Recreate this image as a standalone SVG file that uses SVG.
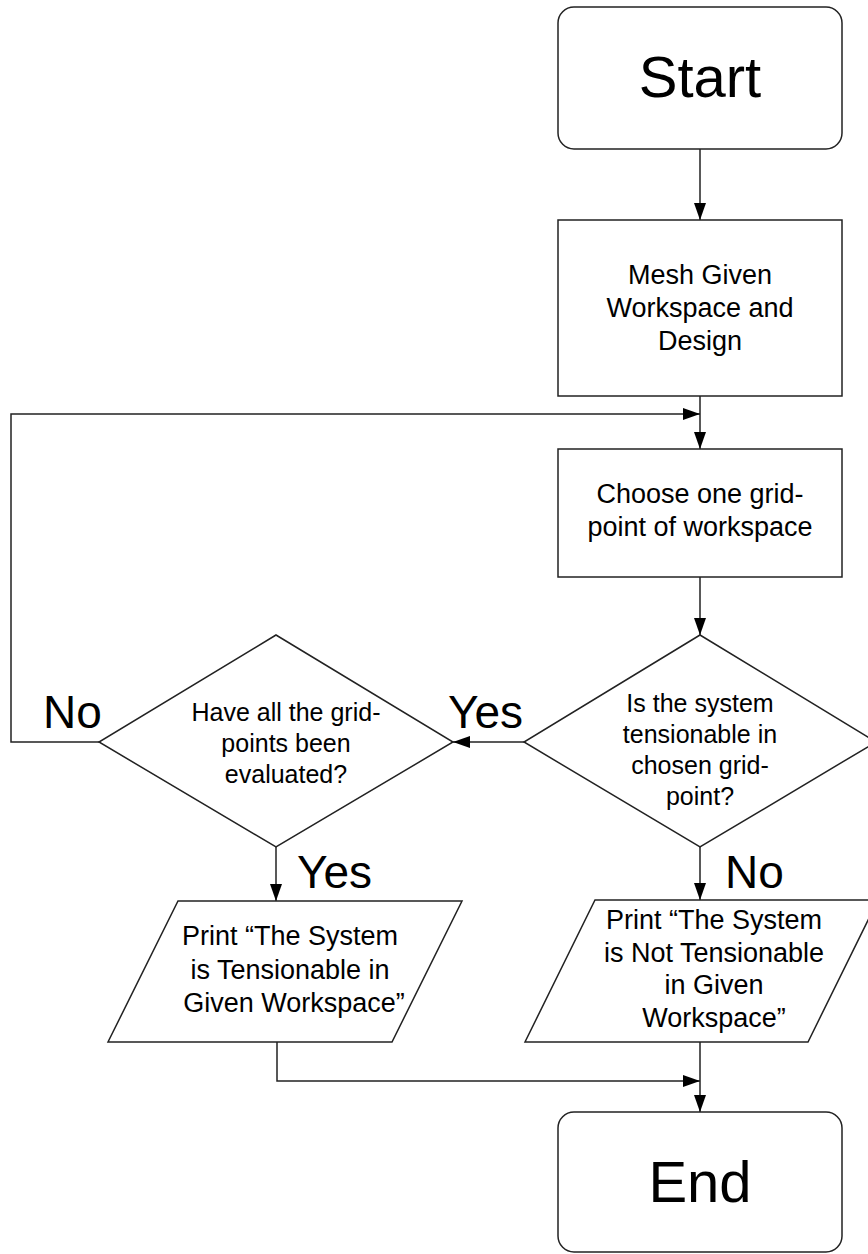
<svg xmlns="http://www.w3.org/2000/svg" width="868" height="1254" viewBox="0 0 868 1254">
<defs>
<style>
.s{fill:#fff;stroke:#222;stroke-width:1.5}
.c{fill:none;stroke:#222;stroke-width:1.5}
text{font-family:"Liberation Sans",Arial,sans-serif;fill:#000}
.t{font-size:27px;text-anchor:middle}
.d{font-size:25px;text-anchor:middle}
.big{font-size:58px;text-anchor:middle}
.lab{font-size:46px}
</style>
<marker id="ah" viewBox="0 0 17 12" refX="17" refY="6" markerWidth="17" markerHeight="12" markerUnits="userSpaceOnUse" orient="auto">
<path d="M0,0 L17,6 L0,12 Z" fill="#000"/>
</marker>
</defs>
<rect width="868" height="1254" fill="#fff"/>
<g id="connectors">
<line class="c" x1="700" y1="149" x2="700" y2="220" marker-end="url(#ah)"/>
<line class="c" x1="700" y1="396" x2="700" y2="449" marker-end="url(#ah)"/>
<polyline class="c" points="99,742 11,742 11,414 700,414" marker-end="url(#ah)"/>
<line class="c" x1="700" y1="577" x2="700" y2="635" marker-end="url(#ah)"/>
<line class="c" x1="524" y1="742" x2="453" y2="742" marker-end="url(#ah)"/>
<line class="c" x1="276" y1="847" x2="276" y2="901" marker-end="url(#ah)"/>
<line class="c" x1="700" y1="847" x2="700" y2="900" marker-end="url(#ah)"/>
<polyline class="c" points="277,1042 277,1081 700,1081" marker-end="url(#ah)"/>
<line class="c" x1="700" y1="1042" x2="700" y2="1112" marker-end="url(#ah)"/>
<text class="lab" x="43" y="728">No</text>
<text class="lab" x="448" y="728">Yes</text>
<text class="lab" x="297" y="888">Yes</text>
<text class="lab" x="725" y="888">No</text>
</g>
<g id="start">
<rect class="s" x="558" y="7" width="284" height="142" rx="16"/>
<text class="big" x="700" y="97">Start</text>
</g>
<g id="mesh">
<rect class="s" x="558" y="220" width="284" height="176"/>
<text class="t" x="700" y="284">Mesh Given</text>
<text class="t" x="700" y="317">Workspace and</text>
<text class="t" x="700" y="350">Design</text>
</g>
<g id="choose">
<rect class="s" x="558" y="449" width="284" height="128"/>
<text class="t" x="700" y="503">Choose one grid-</text>
<text class="t" x="700" y="536">point of workspace</text>
</g>
<g id="tensionable">
<polygon class="s" points="700,635 876,742 700,847 524,742"/>
<text class="d" x="700" y="712">Is the system</text>
<text class="d" x="700" y="743">tensionable in</text>
<text class="d" x="700" y="774">chosen grid-</text>
<text class="d" x="700" y="805">point?</text>
</g>
<g id="evaluated">
<polygon class="s" points="276,635 453,742 276,847 99,742"/>
<text class="d" x="286" y="721">Have all the grid-</text>
<text class="d" x="286" y="752">points been</text>
<text class="d" x="286" y="783">evaluated?</text>
</g>
<g id="print-yes">
<polygon class="s" points="178,901 462,901 392,1042 108,1042"/>
<text class="t" x="290" y="945">Print “The System</text>
<text class="t" x="290" y="979">is Tensionable in</text>
<text class="t" x="294" y="1012">Given Workspace”</text>
</g>
<g id="print-no">
<polygon class="s" points="595,900 878,900 808,1042 525,1042"/>
<text class="t" x="714" y="929">Print “The System</text>
<text class="t" x="714" y="962">is Not Tensionable</text>
<text class="t" x="714" y="994">in Given</text>
<text class="t" x="714" y="1027">Workspace”</text>
</g>
<g id="end">
<rect class="s" x="558" y="1112" width="284" height="140" rx="16"/>
<text class="big" x="700" y="1202">End</text>
</g>
</svg>
